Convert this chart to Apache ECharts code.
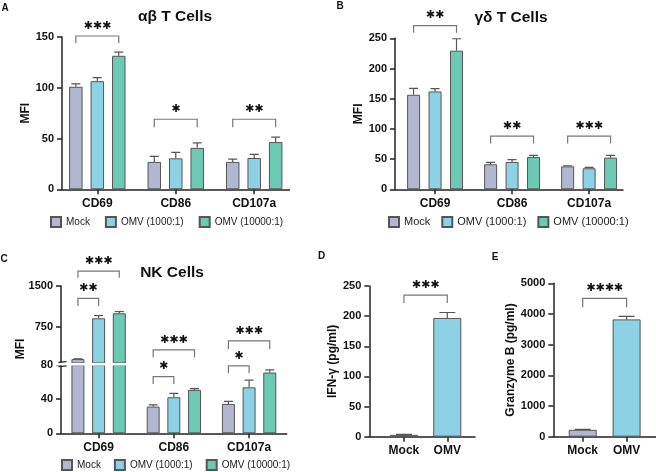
<!DOCTYPE html>
<html>
<head>
<meta charset="utf-8">
<script src="https://cdn.jsdelivr.net/npm/echarts@6/dist/echarts.min.js"></script>
<style>
  html, body { margin: 0; padding: 0; background: #fff; }
  #main { width: 656px; height: 472px; }
</style>
</head>
<body>
<div id="main"></div>
<script>
// 标记物 / 分组
const markers = ['CD69', 'CD86', 'CD107a'];
const groups = ['Mock', 'OMV (1000:1)', 'OMV (10000:1)'];
const twoGroups = ['Mock', 'OMV'];

// A: αβ T cells (MFI, mean + err)
const abMock = [101, 27, 27];
const abMockErr = [2.8, 5.5, 2.8];
const abLow = [106.5, 30.5, 30.8];
const abLowErr = [3.5, 5.8, 3.6];
const abHigh = [131.5, 40.8, 46.5];
const abHighErr = [3.6, 4.9, 4.8];

// B: γδ T cells
const gdMock = [156.5, 41.4, 38];
const gdMockErr = [10.5, 3.3, 1];
const gdLow = [162, 45.3, 34.8];
const gdLowErr = [4.7, 3.7, 1.6];
const gdHigh = [229.5, 53.5, 52.4];
const gdHighErr = [19.8, 2.8, 3.9];

// C: NK cells (y 轴断开 0-80 / 80-1500)
const nkMock = [152, 31.4, 34.5];
const nkMockErr = [6, 1.9, 3.1];
const nkLow = [905, 42.4, 54];
const nkLowErr = [50, 4.6, 8.4];
const nkHigh = [997, 51, 71.4];
const nkHighErr = [32, 1.5, 3.1];
const nkBreak = 80;

// D / E
const ifnVals = [3, 197];
const ifnErr = [1, 9];
const gzbVals = [225, 3824];
const gzbErr = [12, 98];

// 显著性括号: [类别起, 柱偏移起, 类别止, 柱偏移止, 横线高度, 竖线下端]
const sigA = [[0, -1, 0, 1, 151, 144], [1, -1, 1, 1, 69, 61], [2, -1, 2, 1, 69, 61]];
const sigALabels = ['***', '*', '**'];
const sigB = [[0, -1, 0, 1, 271, 259], [1, -1, 1, 1, 88, 76], [2, -1, 2, 1, 88, 76]];
const sigBLabels = ['**', '**', '***'];
const sigCUp = [[0, -1, 0, 1, 1776, 1653], [0, -1, 0, 0, 1273, 1131]];
const sigCUpLabels = ['***', '**'];
const sigCLow = [[1, -1, 1, 1, 98, 89], [1, -1, 1, 0, 66.6, 58], [2, -1, 2, 1, 108.6, 99], [2, -1, 2, 0, 79.2, 70.6]];
const sigCLowLabels = ['***', '*', '***', '*'];
const sigD = [[0, 0, 1, 0, 235, 222]];
const sigDLabels = ['***'];
const sigE = [[0, 0, 1, 0, 4511, 4218]];
const sigELabels = ['****'];

const colors = ['#b2b7cf', '#8dd2e4', '#6cc9b4'];
const FONT = 'Liberation Sans, Arial, sans-serif';
const STAR = '\u2731';

const chart = echarts.init(document.getElementById('main'), null, { renderer: 'canvas' });

// 柱宽 / 间隔
const barA = 13.5, gapA = 0.59, stepA = barA * (1 + gapA);
const barB = 13, gapB = 0.65, stepB = barB * (1 + gapB);
const barC = 13, gapC = 0.59, stepC = barC * (1 + gapC);

function grid(left, top, width, height) {
  return { left: left, top: top, width: width, height: height, containLabel: false, outerBoundsMode: 'none' };
}

function xAxis(gi, min, max, labels, show) {
  const ticks = labels.map((d, i) => i);
  return {
    type: 'value', gridIndex: gi, min: min, max: max, show: show !== false,
    axisLine: { show: true, onZero: false, lineStyle: { color: '#222', width: 1.5 } },
    axisTick: { show: true, length: 5, customValues: ticks, lineStyle: { color: '#222', width: 1.5 } },
    axisLabel: {
      customValues: ticks, margin: 8, color: '#111', fontWeight: 'bold', fontSize: 12, fontFamily: FONT,
      formatter: v => labels[Math.round(v)]
    },
    splitLine: { show: false }
  };
}

function yAxis(gi, min, max, interval, name, gap, custom) {
  const ax = {
    type: 'value', gridIndex: gi, min: min, max: max,
    axisLine: { show: true, onZero: false, lineStyle: { color: '#222', width: 1.5 } },
    axisTick: { show: true, length: 5, lineStyle: { color: '#222', width: 1.5 } },
    axisLabel: { margin: 8, color: '#111', fontWeight: 'bold', fontSize: 11, fontFamily: FONT,
      formatter: v => String(v) },
    splitLine: { show: false }
  };
  if (interval) ax.interval = interval;
  if (custom) {
    ax.axisTick.customValues = custom;
    ax.axisLabel.customValues = custom;
  }
  if (name) {
    ax.name = name;
    ax.nameLocation = 'middle';
    ax.nameGap = gap;
    ax.nameTextStyle = { color: '#111', fontWeight: 'bold', fontSize: 12, fontFamily: FONT };
  }
  return ax;
}

function bars(xi, yi, name, vals, color, w, gap, floor) {
  return {
    type: 'bar', name: name, xAxisIndex: xi, yAxisIndex: yi,
    data: vals.map((v, i) => [i, floor != null && v <= floor ? '-' : v]),
    barWidth: w, barGap: (gap * 100) + '%',
    itemStyle: { color: color, borderColor: '#555', borderWidth: 1 },
    clip: true, z: 2
  };
}

// 误差线
function errs(xi, yi, vals, errVals, offset, half, floor) {
  return {
    type: 'custom', xAxisIndex: xi, yAxisIndex: yi, clip: true, silent: true, z: 4,
    data: vals.map((v, i) => [i, v]),
    encode: { x: 0, y: 1 },
    renderItem: function (params, api) {
      const i = params.dataIndex;
      const v = vals[i], e = errVals[i];
      if (floor != null && v <= floor) return null;
      const p0 = api.coord([i, v]);
      const p1 = api.coord([i, v + e]);
      const x = p0[0] + offset;
      const st = { stroke: '#555', lineWidth: 1.2 };
      return {
        type: 'group', children: [
          { type: 'line', shape: { x1: x, y1: p0[1], x2: x, y2: p1[1] }, style: st },
          { type: 'line', shape: { x1: x - half, y1: p1[1], x2: x + half, y2: p1[1] }, style: st }
        ]
      };
    }
  };
}

// 显著性括号 + 星号
function brackets(xi, yi, list, labels, step) {
  return {
    type: 'custom', xAxisIndex: xi, yAxisIndex: yi, clip: false, silent: true, z: 6,
    data: list.map(b => [b[0], b[4]]),
    encode: { x: 0, y: 1 },
    renderItem: function (params, api) {
      const b = list[params.dataIndex];
      const a = api.coord([b[0], b[4]]);
      const c = api.coord([b[2], b[4]]);
      const d = api.coord([b[0], b[5]]);
      const x1 = a[0] + b[1] * step, x2 = c[0] + b[3] * step;
      const stars = STAR.repeat(labels[params.dataIndex].length);
      return {
        type: 'group', children: [
          { type: 'polyline', shape: { points: [[x1, d[1]], [x1, a[1]], [x2, a[1]], [x2, d[1]]] },
            style: { stroke: '#777', lineWidth: 1.2, fill: null } },
          { type: 'text', x: (x1 + x2) / 2, y: a[1] - 10,
            style: { text: stars, font: 'bold 11px DejaVu Sans', fill: '#111', align: 'center', verticalAlign: 'middle' } }
        ]
      };
    }
  };
}

function legend(left, top, size, gap) {
  return {
    data: groups, left: left, top: top, orient: 'horizontal', icon: 'rect', padding: 0,
    itemWidth: 10, itemHeight: 10, itemGap: gap, selectedMode: false,
    textStyle: { color: '#222', fontSize: size, fontFamily: FONT }
  };
}

function label(text, x, y, font) {
  return { type: 'text', x: x, y: y, z: 100,
    style: { text: text, font: font, fill: '#111', align: 'center', verticalAlign: 'middle' } };
}

const option = {
  animation: false,
  backgroundColor: '#fff',
  grid: [
    grid(62, 37, 227.5, 152.3),      // A
    grid(395, 38.3, 228, 151),       // B
    grid(61, 286, 225.7, 77),        // C 上段
    grid(61, 365.2, 225.7, 68.1),    // C 下段
    grid(369.3, 286, 105.7, 150.7),  // D
    grid(553.3, 283.3, 102.7, 153.4) // E
  ],
  xAxis: [
    xAxis(0, -0.45, 2.45, markers),
    xAxis(1, -0.52, 2.44, markers),
    xAxis(2, -0.5, 2.5, markers, false),
    xAxis(3, -0.5, 2.5, markers),
    xAxis(4, -0.8, 1.64, twoGroups),
    xAxis(5, -0.67, 1.67, twoGroups)
  ],
  yAxis: [
    yAxis(0, 0, 150, 50, 'MFI', 30),
    yAxis(1, 0, 250, 50, 'MFI', 28),
    yAxis(2, nkBreak, 1500, null, null, 0, [750, 1500]),
    yAxis(3, 0, nkBreak, 40),
    yAxis(4, 0, 250, 50, 'IFN-γ (pg/ml)', 25),
    yAxis(5, 0, 5000, 1000, 'Granzyme B (pg/ml)', 35)
  ],
  legend: [
    legend(50, 216, 10, 15),
    legend(388, 216, 11, 11),
    legend(61, 459, 10, 13)
  ],
  graphic: [
    label('A', 5, 8.5, 'bold 10px ' + FONT),
    label('B', 340, 6, 'bold 10px ' + FONT),
    label('C', 4, 259.7, 'bold 10px ' + FONT),
    label('D', 321.7, 256.7, 'bold 10px ' + FONT),
    label('E', 495, 257, 'bold 10px ' + FONT),
    label('αβ T Cells', 175, 17.2, 'bold 15.5px ' + FONT),
    label('γδ T Cells', 511, 17.5, 'bold 15.5px ' + FONT),
    label('NK Cells', 172, 272.5, 'bold 15.5px ' + FONT),
    { type: 'text', x: 21, y: 349, rotation: Math.PI / 2, z: 100,
      style: { text: 'MFI', font: 'bold 12px ' + FONT, fill: '#111', align: 'center', verticalAlign: 'middle' } },
    // 断轴白条 + 断轴符号
    { type: 'rect', z: 3, shape: { x: 55, y: 362.9, width: 236, height: 2.6 }, style: { fill: '#fff' } },
    { type: 'line', z: 3, shape: { x1: 58.5, y1: 362.4, x2: 66.5, y2: 361.6 }, style: { stroke: '#222', lineWidth: 1.3 } },
    { type: 'line', z: 3, shape: { x1: 58.5, y1: 366.6, x2: 66.5, y2: 365.8 }, style: { stroke: '#222', lineWidth: 1.3 } }
  ],
  series: [
    // A
    bars(0, 0, groups[0], abMock, colors[0], barA, gapA),
    bars(0, 0, groups[1], abLow, colors[1], barA, gapA),
    bars(0, 0, groups[2], abHigh, colors[2], barA, gapA),
    errs(0, 0, abMock, abMockErr, -stepA, 4.5),
    errs(0, 0, abLow, abLowErr, 0, 4.5),
    errs(0, 0, abHigh, abHighErr, stepA, 4.5),
    brackets(0, 0, sigA, sigALabels, stepA),
    // B
    bars(1, 1, groups[0], gdMock, colors[0], barB, gapB),
    bars(1, 1, groups[1], gdLow, colors[1], barB, gapB),
    bars(1, 1, groups[2], gdHigh, colors[2], barB, gapB),
    errs(1, 1, gdMock, gdMockErr, -stepB, 4.5),
    errs(1, 1, gdLow, gdLowErr, 0, 4.5),
    errs(1, 1, gdHigh, gdHighErr, stepB, 4.5),
    brackets(1, 1, sigB, sigBLabels, stepB),
    // C 上段
    bars(2, 2, groups[0], nkMock, colors[0], barC, gapC, nkBreak),
    bars(2, 2, groups[1], nkLow, colors[1], barC, gapC, nkBreak),
    bars(2, 2, groups[2], nkHigh, colors[2], barC, gapC, nkBreak),
    errs(2, 2, nkMock, nkMockErr, -stepC, 4.5, nkBreak),
    errs(2, 2, nkLow, nkLowErr, 0, 4.5, nkBreak),
    errs(2, 2, nkHigh, nkHighErr, stepC, 4.5, nkBreak),
    brackets(2, 2, sigCUp, sigCUpLabels, stepC),
    // C 下段
    bars(3, 3, groups[0], nkMock, colors[0], barC, gapC),
    bars(3, 3, groups[1], nkLow, colors[1], barC, gapC),
    bars(3, 3, groups[2], nkHigh, colors[2], barC, gapC),
    errs(3, 3, nkMock, nkMockErr, -stepC, 4.5),
    errs(3, 3, nkLow, nkLowErr, 0, 4.5),
    errs(3, 3, nkHigh, nkHighErr, stepC, 4.5),
    brackets(3, 3, sigCLow, sigCLowLabels, stepC),
    // D
    {
      type: 'bar', name: 'IFN-γ', xAxisIndex: 4, yAxisIndex: 4, barWidth: 28, z: 2,
      data: ifnVals.map((v, i) => ({ value: [i, v], itemStyle: { color: colors[i] } })),
      itemStyle: { borderColor: '#555', borderWidth: 1 }
    },
    errs(4, 4, ifnVals, ifnErr, 0, 8),
    brackets(4, 4, sigD, sigDLabels, 0),
    // E
    {
      type: 'bar', name: 'Granzyme B', xAxisIndex: 5, yAxisIndex: 5, barWidth: 28, z: 2,
      data: gzbVals.map((v, i) => ({ value: [i, v], itemStyle: { color: colors[i] } })),
      itemStyle: { borderColor: '#555', borderWidth: 1 }
    },
    errs(5, 5, gzbVals, gzbErr, 0, 8),
    brackets(5, 5, sigE, sigELabels, 0)
  ]
};

chart.setOption(option);
</script>
</body>
</html>
